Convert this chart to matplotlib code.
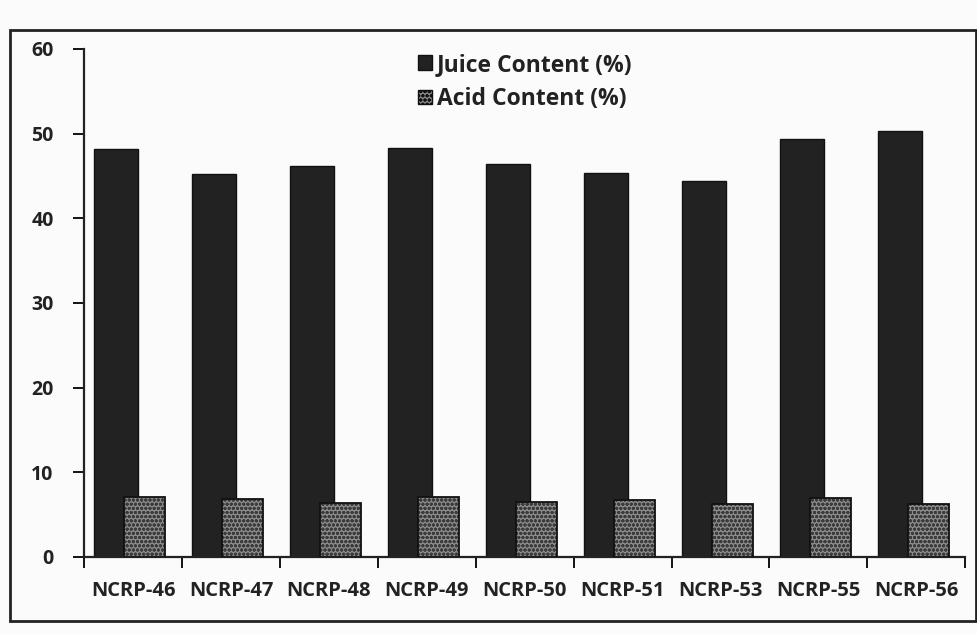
import matplotlib.pyplot as plt
import numpy as np
from matplotlib.patches import Rectangle, Patch

plt.rcParams['font.family'] = ['Open Sans', 'DejaVu Sans']

varieties = ['NCRP-46', 'NCRP-47', 'NCRP-48', 'NCRP-49', 'NCRP-50',
             'NCRP-51', 'NCRP-53', 'NCRP-55', 'NCRP-56']
juice = [48.2, 45.2, 46.2, 48.3, 46.4, 45.3, 44.4, 49.3, 50.3]
acid = [7.1, 6.8, 6.4, 7.1, 6.5, 6.7, 6.3, 6.9, 6.3]
yticks = [0, 10, 20, 30, 40, 50, 60]

fig = plt.figure(figsize=(9.78, 6.35), dpi=100)
fig.patch.set_facecolor('#fbfbfb')
# outer frame of the scanned figure
fig.patches.append(Rectangle((0.01, 0.022), 0.988, 0.93, transform=fig.transFigure,
                             fill=False, edgecolor='#222222', linewidth=2))

ax = fig.add_axes([0.086, 0.123, 0.901, 0.8])
ax.set_facecolor('none')
x = np.arange(len(varieties))

ax.bar(x - 0.17, juice, width=0.45, color='#222222', edgecolor='#111111',
       linewidth=1, zorder=2)
# acid bars: mottled grey with black outline
ax.bar(x + 0.12, acid, width=0.42, color='#8c8c8c', edgecolor='#3c3c3c',
       hatch='oooo', linewidth=0, zorder=3)
ax.bar(x + 0.12, acid, width=0.42, fill=False, edgecolor='#111111',
       linewidth=1.3, zorder=4)

ax.set_xlim(-0.5, len(varieties) - 0.5)
ax.set_ylim(0, 60)
ax.set_yticks(yticks)
ax.set_yticklabels([str(v) for v in yticks], fontsize=14, fontweight='bold',
                   color='#222222')
ax.set_xticks(x)
ax.set_xticklabels(varieties, fontsize=14.5, fontweight='bold', color='#222222')
ax.tick_params(axis='x', length=0, pad=17)
ax.set_xticks(np.arange(len(varieties) + 1) - 0.5, minor=True)
ax.tick_params(axis='x', which='minor', length=8, width=1.3, direction='out')
ax.tick_params(axis='y', length=8, width=1.3, direction='out', pad=14)

for s in ['top', 'right']:
    ax.spines[s].set_visible(False)
for s in ['left', 'bottom']:
    ax.spines[s].set_linewidth(1.6)
    ax.spines[s].set_color('#222222')

handles = [Patch(facecolor='#222222', edgecolor='#111111'),
           Patch(facecolor='#8c8c8c', edgecolor='#111111', hatch='oooo')]
leg = fig.legend(handles, ['Juice Content (%)', 'Acid Content (%)'],
                 loc='upper left', bbox_to_anchor=(0.416, 0.935), frameon=False,
                 prop={'size': 16.5, 'weight': 'bold'}, handlelength=0.6,
                 handleheight=0.6, handletextpad=0.2, labelspacing=0.45,
                 borderpad=0)
for t in leg.get_texts():
    t.set_color('#222222')

fig.savefig('out.png', dpi=100, facecolor=fig.get_facecolor())
